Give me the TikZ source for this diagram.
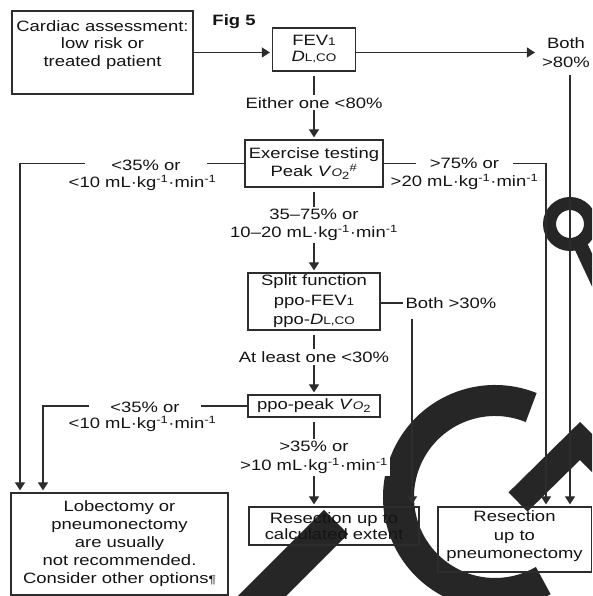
\documentclass[tikz,border=0pt]{standalone}
\usepackage{fontspec}
\setmainfont{Liberation Sans}[FakeStretch=1.23]
\usetikzlibrary{arrows.meta}
\definecolor{ln}{RGB}{45,45,45}
\definecolor{tx}{RGB}{20,20,20}
\definecolor{wm}{RGB}{38,38,38}
\newcommand{\sm}[1]{{\fontsize{11}{11}\selectfont #1}}
\newcommand{\mlkg}{mL·kg\textsuperscript{-1}·min\textsuperscript{-1}}
\begin{document}
\begin{tikzpicture}[x=1pt,y=1pt,
  box/.style={draw=ln, line width=1.2pt, inner sep=0pt},
  txt/.style={text=tx, align=center, font=\fontsize{15}{18}\selectfont, inner sep=2pt},
  lbl/.style={txt, fill=white},
  arr/.style={draw=ln, line width=1.2pt, -{Triangle[width=10pt,length=8pt]}, shorten >=2pt},
  con/.style={draw=ln, line width=1.2pt},
  wmk/.style={draw=wm, line cap=butt, line join=miter}
]
\useasboundingbox (0,0) rectangle (592,596);
\fill[white] (0,0) rectangle (592,596);

% watermark
\begin{scope}
\clip (0,0) rectangle (592,596);
\draw[wmk, line width=31pt] (495,99) ++(68:96.5) arc[start angle=68, end angle=300, radius=96.5];
\draw[wmk, line width=27pt] (518,94) -- (580,155) -- (640,95);
\draw[wmk, line width=34pt] (232,-30) -- (336,74);
\draw[wmk, line width=13pt] (570,372) circle[radius=20.5];
\draw[wmk, line width=14pt] (578,356) -- (606,296);
\end{scope}

% coordinates for vertical connector columns
\coordinate (xL1) at (20,0);
\coordinate (xL2) at (43,0);
\coordinate (xM) at (412,0);
\coordinate (xR1) at (546,0);
\coordinate (xR2) at (570,0);

% boxes
\node[box, minimum width=181pt, minimum height=83pt] (card) at (102.5,543.5) {};
\node[txt, font=\fontsize{15}{17.5}\selectfont] (cardt) at (102.5,551) {Cardiac assessment:\\low risk or\\treated patient};
\node[txt, font=\fontsize{15}{18}\selectfont\bfseries] (fig) at (234,574) {Fig 5};
\node[box, txt, minimum width=83pt, minimum height=43pt, font=\fontsize{15}{16}\selectfont] (fev) at (314,546.5) {FEV\sm{1}\\\textit{D}\sm{L,CO}};
\node[txt, font=\fontsize{15}{19}\selectfont] (b80) at (566,543.5) {Both\\>80\%};
\node[box, txt, minimum width=138pt, minimum height=47pt] (ex) at (314,432.5) {Exercise testing\\Peak \textit{V}\sm{\textit{O}}\textsubscript{2}\textsuperscript{\#}};
\node[box, txt, minimum width=132pt, minimum height=57pt, font=\fontsize{15}{19.5}\selectfont] (split) at (314,294.5) {Split function\\ppo-FEV\sm{1}\\ppo-\textit{D}\sm{L,CO}};
\node[box, txt, minimum width=132pt, minimum height=22pt] (ppo) at (314,190) {ppo-peak \textit{V}\sm{\textit{O}}\textsubscript{2}};
\node[box, txt, minimum width=170pt, minimum height=38pt, font=\fontsize{15}{15.5}\selectfont] (resc) at (334,70) {Resection up to\\calculated extent};
\node[box, minimum width=153.5pt, minimum height=65pt] (respn) at (514.75,56.5) {};
\node[txt, font=\fontsize{15}{18.5}\selectfont] (respnt) at (514.5,59.5) {Resection\\up to\\pneumonectomy};
\node[box, txt, minimum width=217pt, minimum height=102pt] (lob) at (119.5,52) {Lobectomy or\\pneumonectomy\\are usually\\not recommended.\\Consider other options\sm{¶}};
\node[txt] (b30) at (451,293) {Both >30\%};

% connectors
\draw[arr] (card.east) -- (fev.west |- card.east);
\draw[arr, shorten >=5pt] (fev.east |- card.east) -- (b80.west |- card.east);
\draw[arr, shorten <=5pt] (b80.south -| xR2) -- (respn.north -| xR2);
\draw[arr, shorten <=4pt] (fev.south) -- (ex.north);
\draw[arr] (ex.west) -| (lob.north -| xL1);
\draw[arr] (ex.east) -| (respn.north -| xR1);
\draw[arr, shorten <=4pt] (ex.south) -- (split.north);
\draw[con] (split.east |- b30.west) -- (b30.west);
\draw[arr, shorten <=8pt] (b30.south -| xM) -- (resc.north -| xM);
\draw[arr, shorten <=4pt] (split.south) -- (ppo.north);
\draw[arr] (ppo.west) -| (lob.north -| xL2);
\draw[arr, shorten <=4pt] (ppo.south) -- (ppo.south |- resc.north);

% labels
\node[lbl] (l1) at (314,493) {Either one <80\%};
\node[lbl, inner xsep=26pt] (l2a) at (146,431) {<35\% or};
\node[txt] (l2b) at (142.5,413) {<10 \mlkg};
\node[lbl] (l3) at (314,371) {35–75\% or\\10–20 \mlkg};
\node[lbl, inner xsep=14pt] (l4a) at (464.5,433) {>75\% or};
\node[txt] (l4b) at (464.5,414) {>20 \mlkg};
\node[lbl] (l6) at (314,239) {At least one <30\%};
\node[lbl, inner xsep=21pt] (l7a) at (145,189) {<35\% or};
\node[txt] (l7b) at (142.5,172) {<10 \mlkg};
\node[lbl, font=\fontsize{15}{19}\selectfont] (l8) at (314,138.5) {>35\% or\\>10 \mlkg};
\end{tikzpicture}
\end{document}
